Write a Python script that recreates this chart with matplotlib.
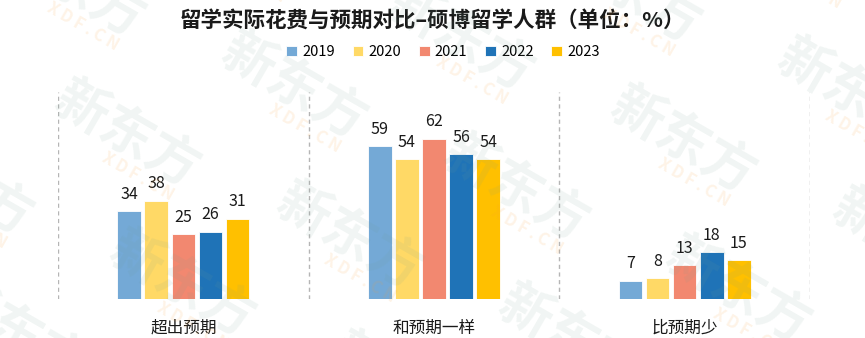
import matplotlib
matplotlib.use("Agg")
import matplotlib.pyplot as plt
import numpy as np

plt.rcParams['font.family'] = ['Noto Sans CJK SC', 'DejaVu Sans']

# Data
categories = ["超出预期", "和预期一样", "比预期少"]
years = ["2019", "2020", "2021", "2022", "2023"]
values = {
    "2019": [34, 59, 7],
    "2020": [38, 54, 8],
    "2021": [25, 62, 13],
    "2022": [26, 56, 18],
    "2023": [31, 54, 15],
}
colors = ["#74a9d6", "#ffd966", "#f28870", "#1f73b7", "#ffc000"]
title = "留学实际花费与预期对比–硕博留学人群（单位：%）"

fig = plt.figure(figsize=(8.65, 3.38), dpi=100)
ax = fig.add_axes([58 / 865, 1 - 299 / 338, (810 - 58) / 865, (299 - 92) / 338])

x = np.arange(len(categories))
step = 0.108
width = 0.094
for j, (yr, col) in enumerate(zip(years, colors)):
    vals = values[yr]
    pos = x + (j - 2) * step
    bars = ax.bar(pos, vals, width, color=col, edgecolor="white",
                  linewidth=0.6, label=yr, zorder=2)
    for b, v in zip(bars, vals):
        ax.annotate(f"{v}", (b.get_x() + b.get_width() / 2, v),
                    xytext=(0, 9), textcoords="offset points",
                    ha="center", va="baseline", fontsize=11.5, color="#1a1a1a")

# dashed separators between groups
for sep in np.arange(-0.5, len(categories), 1.0):
    ax.axvline(sep, color="#b5b5b5", linestyle=(0, (3, 2.5)), linewidth=1.0, zorder=1)

ax.set_xlim(-0.5, len(categories) - 0.5)
ax.set_ylim(0, 80)
ax.set_xticks(x)
ax.set_xticklabels(categories, fontsize=12, color="#1a1a1a")
ax.tick_params(axis="x", length=0, pad=15)
ax.set_yticks([])
for s in ax.spines.values():
    s.set_visible(False)

fig.text(432 / 865, 1 - 20 / 338, title, ha="center", va="center",
         fontsize=15.5, fontweight="bold", color="#1a1a1a")

handles, labels = ax.get_legend_handles_labels()
fig.legend(handles, labels, loc="center", ncol=5,
           bbox_to_anchor=(443 / 865, 1 - 52 / 338), frameon=False,
           fontsize=10.5, handlelength=0.75, handleheight=0.75,
           handletextpad=0.35, columnspacing=1.2)

# faint tiled brand watermark across the whole canvas
a = np.array([167, -48])
b = np.array([55, 150])
origin = np.array([127, 135])
for i in range(-3, 6):
    for k in range(-2, 3):
        cx, cy = origin + i * a + k * b
        if -120 < cx < 985 and -100 < cy < 440:
            fig.text(cx / 865, 1 - cy / 338, "新东方", rotation=-30,
                     rotation_mode="anchor", ha="center", va="center",
                     fontsize=38, fontweight="black", color=(0.45, 0.62, 0.56),
                     alpha=0.10, zorder=10)
            fig.text((cx + 11) / 865, 1 - (cy + 42) / 338, "X D F . C N",
                     rotation=-30, rotation_mode="anchor", ha="center",
                     va="center", fontsize=12, fontweight="bold",
                     color=(0.98, 0.62, 0.2), alpha=0.12, zorder=10)

fig.savefig("out.png", dpi=100)
